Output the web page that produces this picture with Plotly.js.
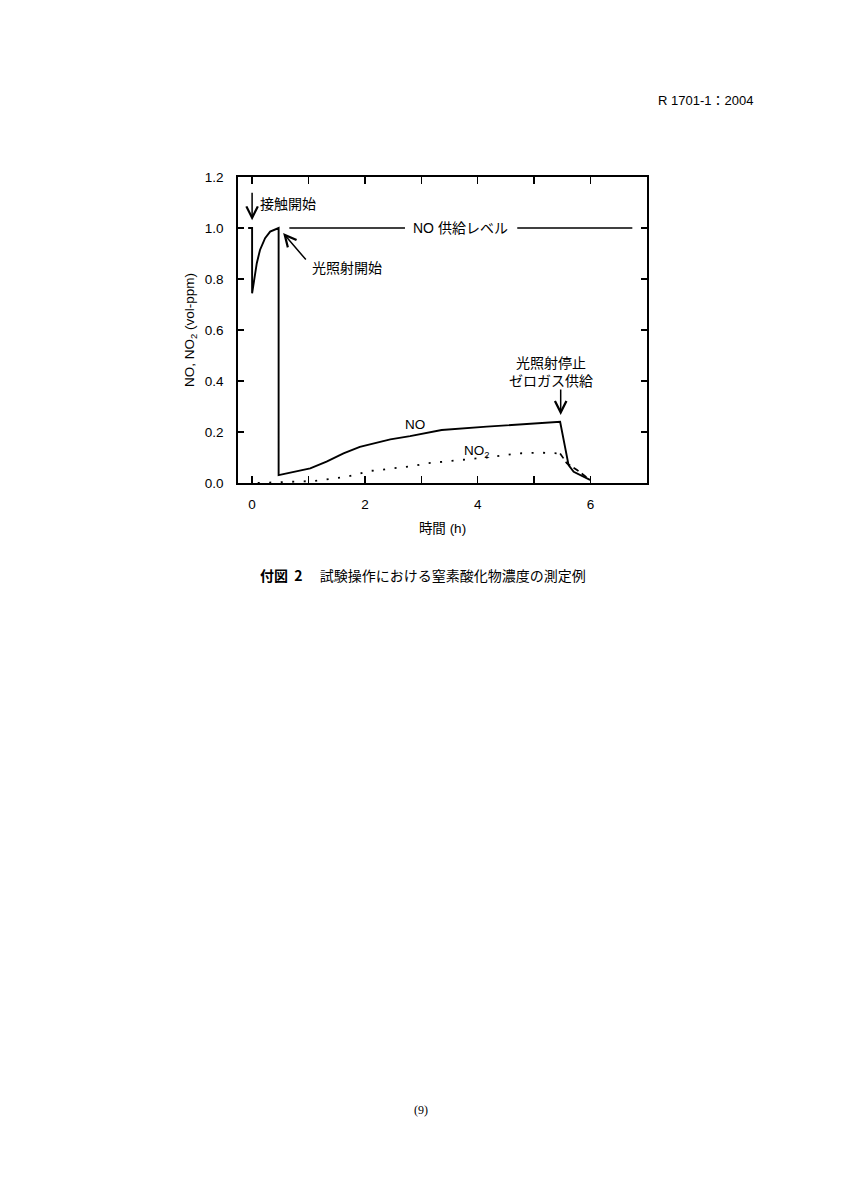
<!DOCTYPE html>
<html>
<head>
<meta charset="utf-8">
<script src="https://cdn.plot.ly/plotly-3.0.1.min.js"></script>
<style>html,body{margin:0;padding:0;background:#fff;}</style>
</head>
<body>
<div id="chart" style="width:844px;height:1200px;"></div>
<script>
// NO concentration (vol-ppm) vs time (h)
const noTime = [-0.07, 0, 0, 0.035, 0.083, 0.14, 0.23, 0.32, 0.44, 0.47, 0.47, 0.73, 1.03, 1.32, 1.62, 1.91, 2.21, 2.45, 2.80, 3.16, 3.36, 4.16, 5.46, 5.61, 5.70, 5.99];
const noValue = [1.0, 1.0, 0.744, 0.796, 0.862, 0.914, 0.96, 0.986, 0.999, 1.0, 0.031, 0.044, 0.057, 0.084, 0.116, 0.142, 0.158, 0.171, 0.184, 0.199, 0.208, 0.221, 0.24, 0.07, 0.044, 0.012];
// NO2 during irradiation (dotted)
const no2Time = [0.1, 0.47, 1.09, 1.26, 1.47, 1.68, 1.87, 2.07, 2.27, 2.48, 2.68, 2.89, 3.09, 3.51, 3.9, 4.28, 4.69, 5.1, 5.46];
const no2Value = [0.0, 0.002, 0.008, 0.012, 0.018, 0.025, 0.035, 0.047, 0.051, 0.057, 0.064, 0.068, 0.077, 0.086, 0.097, 0.103, 0.116, 0.119, 0.116];
// NO2 after zero gas supply (dashed)
const no2DecayTime = [5.46, 5.52, 5.58, 5.76, 5.99];
const no2DecayValue = [0.116, 0.097, 0.077, 0.051, 0.012];
// supply level
const supplyLevel = 1.0;
const supplyLineSegments = [[0.66, 2.71], [4.70, 6.74]];
// axis ticks
const xTickVals = [0, 1, 2, 3, 4, 5, 6];
const xTickText = ['0', '', '2', '', '4', '', '6'];
const yTickVals = [0, 0.2, 0.4, 0.6, 0.8, 1.0, 1.2];

const FONT = 'Liberation Sans, Arial, Noto Sans CJK JP, sans-serif';
const JFONT = 'Liberation Sans, Noto Sans CJK JP, sans-serif';

const traces = [
  {x: noTime, y: noValue, mode: 'lines', line: {color: '#000', width: 1.9}, hoverinfo: 'skip'},
  {x: no2Time, y: no2Value, mode: 'lines', line: {color: '#000', width: 1.8, dash: '2px,9.5px'}, hoverinfo: 'skip'},
  {x: no2DecayTime, y: no2DecayValue, mode: 'lines', line: {color: '#000', width: 1.7, dash: '6px,4px'}, hoverinfo: 'skip'}
];

const shapes = supplyLineSegments.map(s => ({
  type: 'line', xref: 'x', yref: 'y', x0: s[0], x1: s[1], y0: supplyLevel, y1: supplyLevel,
  line: {color: '#000', width: 1.5}
}));

const annFont = {family: JFONT, size: 14, color: '#000'};
const arrowStyle = {arrowhead: 5, arrowsize: 1.5, arrowwidth: 1.5, arrowcolor: '#000'};
const annotations = [
  // contact start arrow + text
  Object.assign({x: 0, y: 1.03, xref: 'x', yref: 'y', text: '', showarrow: true, ax: 0, ay: -29}, arrowStyle),
  {x: 0.1, y: 1.094, xref: 'x', yref: 'y', text: '接触開始', showarrow: false, xanchor: 'left', yanchor: 'middle', font: annFont},
  // light irradiation start
  Object.assign({x: 0.55, y: 0.98, xref: 'x', yref: 'y', text: '', showarrow: true, ax: 24, ay: 28}, arrowStyle),
  {x: 1.03, y: 0.843, xref: 'x', yref: 'y', text: '光照射開始', showarrow: false, xanchor: 'left', yanchor: 'middle', font: annFont},
  // supply level label
  {x: 3.69, y: supplyLevel, xref: 'x', yref: 'y', text: 'NO 供給レベル', showarrow: false, xanchor: 'center', yanchor: 'middle', font: annFont},
  // series labels
  {x: 2.89, y: 0.231, xref: 'x', yref: 'y', text: 'NO', showarrow: false, xanchor: 'center', yanchor: 'middle', font: {family: FONT, size: 13.5, color: '#000'}},
  {x: 3.72, y: 0.125, xref: 'x', yref: 'y', text: 'NO<sub>2</sub>', showarrow: false, xanchor: 'left', yanchor: 'middle', font: {family: FONT, size: 13.5, color: '#000'}},
  // irradiation stop
  {x: 5.3, y: 0.437, xref: 'x', yref: 'y', text: '光照射停止<br>ゼロガス供給', showarrow: false, xanchor: 'center', yanchor: 'middle', font: annFont},
  Object.assign({x: 5.47, y: 0.267, xref: 'x', yref: 'y', text: '', showarrow: true, ax: 0, ay: -27}, arrowStyle),
  // page header, caption, page number
  {x: 1.264, y: 1.2516, xref: 'paper', yref: 'paper', text: 'R 1701-1：2004', showarrow: false, xanchor: 'right', yanchor: 'middle', font: {family: JFONT, size: 13, color: '#000'}},
  {x: 0.452, y: -0.3007, xref: 'paper', yref: 'paper', text: '<b>付図  2</b>　 試験操作における窒素酸化物濃度の測定例', showarrow: false, xanchor: 'center', yanchor: 'middle', font: {family: 'Noto Sans CJK JP, sans-serif', size: 14, color: '#000'}},
  {x: 0.447, y: -2.049, xref: 'paper', yref: 'paper', text: '(9)', showarrow: false, xanchor: 'center', yanchor: 'middle', font: {family: 'Liberation Serif, serif', size: 12, color: '#000'}}
];

const layout = {
  width: 844, height: 1200,
  margin: {l: 238, r: 197, t: 177, b: 717, pad: 0},
  paper_bgcolor: '#fff', plot_bgcolor: '#fff',
  showlegend: false,
  font: {family: FONT, size: 13, color: '#000'},
  xaxis: {
    range: [-0.25, 7.0], tickvals: xTickVals, ticktext: xTickText,
    ticks: 'inside', ticklen: 7, tickwidth: 1.4, tickcolor: '#000',
    showline: true, linewidth: 1.7, linecolor: '#000', mirror: 'ticks',
    showgrid: false, zeroline: false, ticklabelstandoff: 8,
    tickfont: {family: FONT, size: 13.5},
    title: {text: '時間 (h)', font: {family: JFONT, size: 13.5}, standoff: 12}
  },
  yaxis: {
    range: [0, 1.2], tickvals: yTickVals, tickformat: '.1f',
    ticks: 'inside', ticklen: 6, tickwidth: 1.4, tickcolor: '#000',
    showline: true, linewidth: 1.7, linecolor: '#000', mirror: 'ticks',
    showgrid: false, zeroline: false, ticklabelstandoff: 10,
    tickfont: {family: FONT, size: 13.5},
    title: {text: 'NO, NO<sub>2</sub> (vol-ppm)', font: {family: FONT, size: 13.5}, standoff: 7}
  },
  shapes: shapes,
  annotations: annotations
};

Plotly.newPlot('chart', traces, layout, {staticPlot: true, displayModeBar: false});
</script>
</body>
</html>
